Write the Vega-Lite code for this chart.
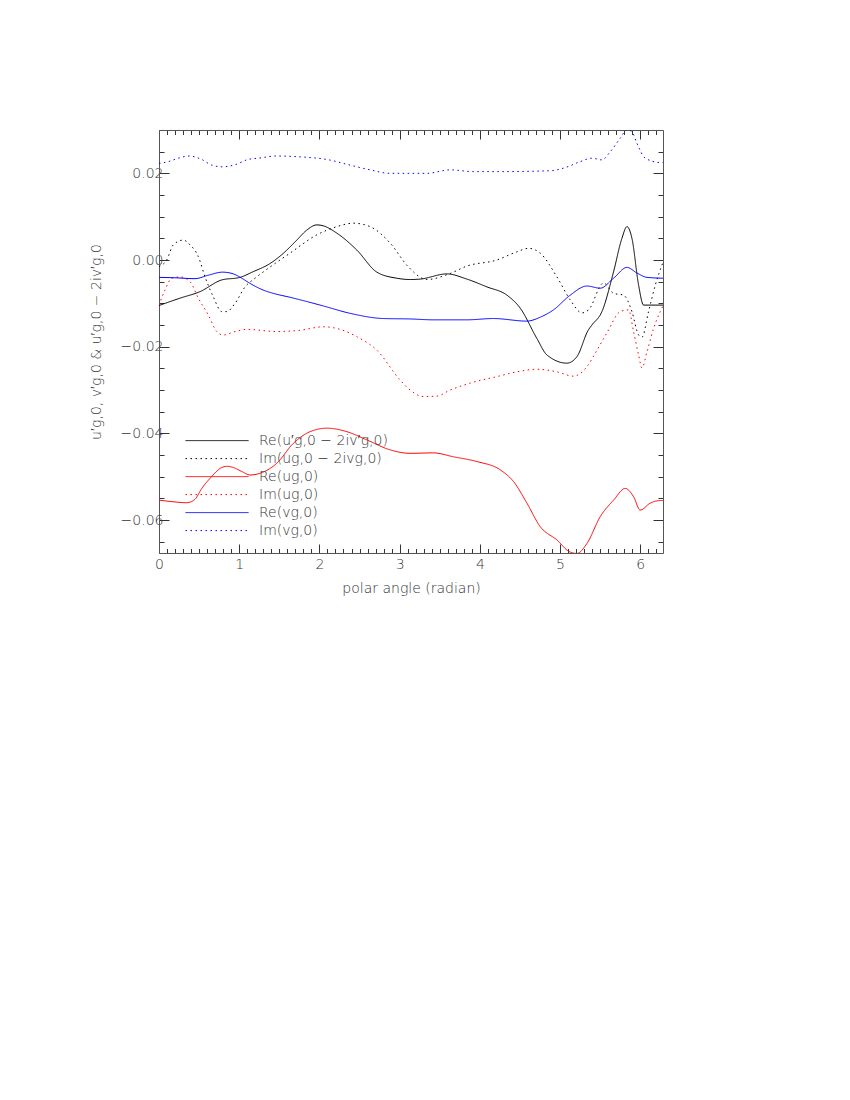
{
  "$schema": "https://vega.github.io/schema/vega-lite/v6.json",
  "width": 504,
  "height": 423,
  "autosize": "none",
  "padding": {"left": 159, "top": 130, "right": 187, "bottom": 547},
  "background": "white",
  "config": {"view": {"stroke": null}, "font": "DejaVu Sans"},
  "datasets": {
    "curves": [
      {"s":"a","x":0,"y":-0.0105},{"s":"a","x":0.262,"y":-0.0088},{"s":"a","x":0.511,"y":-0.0073},{"s":"a","x":0.782,"y":-0.0046},{"s":"a","x":1.01,"y":-0.004},{"s":"a","x":1.173,"y":-0.0027},{"s":"a","x":1.385,"y":-0.0008},{"s":"a","x":1.547,"y":0.0015},{"s":"a","x":1.718,"y":0.0046},{"s":"a","x":1.842,"y":0.0069},{"s":"a","x":1.967,"y":0.0081},{"s":"a","x":2.046,"y":0.0079},{"s":"a","x":2.217,"y":0.0062},{"s":"a","x":2.466,"y":0.0023},{"s":"a","x":2.716,"y":-0.0028},{"s":"a","x":2.965,"y":-0.0042},{"s":"a","x":3.131,"y":-0.0045},{"s":"a","x":3.256,"y":-0.0044},{"s":"a","x":3.589,"y":-0.0032},{"s":"a","x":3.838,"y":-0.0044},{"s":"a","x":4.088,"y":-0.0062},{"s":"a","x":4.337,"y":-0.0081},{"s":"a","x":4.503,"y":-0.0111},{"s":"a","x":4.711,"y":-0.0181},{"s":"a","x":4.836,"y":-0.0219},{"s":"a","x":5.085,"y":-0.0238},{"s":"a","x":5.21,"y":-0.0223},{"s":"a","x":5.351,"y":-0.0162},{"s":"a","x":5.397,"y":-0.015},{"s":"a","x":5.522,"y":-0.0119},{"s":"a","x":5.667,"y":-0.0027},{"s":"a","x":5.771,"y":0.005},{"s":"a","x":5.834,"y":0.0077},{"s":"a","x":5.896,"y":0.005},{"s":"a","x":5.979,"y":-0.0058},{"s":"a","x":6.041,"y":-0.0104},{"s":"a","x":6.146,"y":-0.0104},{"s":"a","x":6.283,"y":-0.0104},
      {"s":"b","x":0,"y":-0.0015},{"s":"b","x":0.096,"y":0.0},{"s":"b","x":0.178,"y":0.0035},{"s":"b","x":0.303,"y":0.0046},{"s":"b","x":0.387,"y":0.0035},{"s":"b","x":0.49,"y":0.0008},{"s":"b","x":0.574,"y":-0.0039},{"s":"b","x":0.677,"y":-0.0085},{"s":"b","x":0.782,"y":-0.0119},{"s":"b","x":0.844,"y":-0.0119},{"s":"b","x":0.948,"y":-0.01},{"s":"b","x":1.073,"y":-0.0062},{"s":"b","x":1.197,"y":-0.0042},{"s":"b","x":1.363,"y":-0.0019},{"s":"b","x":1.634,"y":0.0016},{"s":"b","x":1.967,"y":0.0058},{"s":"b","x":2.217,"y":0.0077},{"s":"b","x":2.424,"y":0.0085},{"s":"b","x":2.632,"y":0.0077},{"s":"b","x":2.882,"y":0.0039},{"s":"b","x":3.11,"y":-0.0016},{"s":"b","x":3.339,"y":-0.0045},{"s":"b","x":3.63,"y":-0.0031},{"s":"b","x":3.838,"y":-0.0014},{"s":"b","x":4.212,"y":0.0},{"s":"b","x":4.462,"y":0.0019},{"s":"b","x":4.607,"y":0.0027},{"s":"b","x":4.752,"y":0.0016},{"s":"b","x":4.961,"y":-0.0039},{"s":"b","x":5.127,"y":-0.0092},{"s":"b","x":5.273,"y":-0.0122},{"s":"b","x":5.355,"y":-0.0115},{"s":"b","x":5.542,"y":-0.0053},{"s":"b","x":5.667,"y":-0.0077},{"s":"b","x":5.791,"y":-0.0081},{"s":"b","x":5.896,"y":-0.0119},{"s":"b","x":5.979,"y":-0.0173},{"s":"b","x":6.021,"y":-0.0178},{"s":"b","x":6.103,"y":-0.0119},{"s":"b","x":6.187,"y":-0.0058},{"s":"b","x":6.283,"y":-0.0005},
      {"s":"c","x":0,"y":-0.0554},{"s":"c","x":0.137,"y":-0.0557},{"s":"c","x":0.346,"y":-0.056},{"s":"c","x":0.449,"y":-0.0552},{"s":"c","x":0.53,"y":-0.0528},{"s":"c","x":0.64,"y":-0.0503},{"s":"c","x":0.78,"y":-0.0479},{"s":"c","x":0.85,"y":-0.0476},{"s":"c","x":0.93,"y":-0.0479},{"s":"c","x":1.032,"y":-0.0488},{"s":"c","x":1.135,"y":-0.0496},{"s":"c","x":1.26,"y":-0.0492},{"s":"c","x":1.468,"y":-0.0469},{"s":"c","x":1.675,"y":-0.0423},{"s":"c","x":1.884,"y":-0.0396},{"s":"c","x":2.092,"y":-0.0388},{"s":"c","x":2.341,"y":-0.0396},{"s":"c","x":2.591,"y":-0.0415},{"s":"c","x":2.881,"y":-0.0438},{"s":"c","x":3.131,"y":-0.0446},{"s":"c","x":3.421,"y":-0.0445},{"s":"c","x":3.671,"y":-0.0454},{"s":"c","x":3.963,"y":-0.0465},{"s":"c","x":4.253,"y":-0.0484},{"s":"c","x":4.419,"y":-0.0511},{"s":"c","x":4.587,"y":-0.0561},{"s":"c","x":4.752,"y":-0.0615},{"s":"c","x":4.961,"y":-0.0646},{"s":"c","x":5.127,"y":-0.0674},{"s":"c","x":5.21,"y":-0.0677},{"s":"c","x":5.335,"y":-0.0654},{"s":"c","x":5.501,"y":-0.0592},{"s":"c","x":5.667,"y":-0.0554},{"s":"c","x":5.813,"y":-0.0527},{"s":"c","x":5.916,"y":-0.0546},{"s":"c","x":5.999,"y":-0.0577},{"s":"c","x":6.124,"y":-0.0561},{"s":"c","x":6.249,"y":-0.0555},{"s":"c","x":6.283,"y":-0.0555},
      {"s":"d","x":0,"y":-0.0104},{"s":"d","x":0.075,"y":-0.0069},{"s":"d","x":0.158,"y":-0.0042},{"s":"d","x":0.262,"y":-0.0039},{"s":"d","x":0.387,"y":-0.005},{"s":"d","x":0.49,"y":-0.0088},{"s":"d","x":0.615,"y":-0.0127},{"s":"d","x":0.72,"y":-0.0165},{"s":"d","x":0.802,"y":-0.0173},{"s":"d","x":0.948,"y":-0.0165},{"s":"d","x":1.094,"y":-0.016},{"s":"d","x":1.468,"y":-0.0165},{"s":"d","x":1.759,"y":-0.0162},{"s":"d","x":2.049,"y":-0.0154},{"s":"d","x":2.258,"y":-0.016},{"s":"d","x":2.466,"y":-0.0177},{"s":"d","x":2.716,"y":-0.0208},{"s":"d","x":3.006,"y":-0.0277},{"s":"d","x":3.131,"y":-0.03},{"s":"d","x":3.297,"y":-0.0315},{"s":"d","x":3.464,"y":-0.0314},{"s":"d","x":3.63,"y":-0.03},{"s":"d","x":3.879,"y":-0.0284},{"s":"d","x":4.212,"y":-0.0269},{"s":"d","x":4.462,"y":-0.0258},{"s":"d","x":4.711,"y":-0.0252},{"s":"d","x":4.961,"y":-0.0258},{"s":"d","x":5.168,"y":-0.0268},{"s":"d","x":5.335,"y":-0.0246},{"s":"d","x":5.46,"y":-0.0208},{"s":"d","x":5.584,"y":-0.0168},{"s":"d","x":5.75,"y":-0.0119},{"s":"d","x":5.854,"y":-0.0115},{"s":"d","x":5.916,"y":-0.0165},{"s":"d","x":5.979,"y":-0.0219},{"s":"d","x":6.021,"y":-0.0249},{"s":"d","x":6.083,"y":-0.0212},{"s":"d","x":6.166,"y":-0.0158},{"s":"d","x":6.249,"y":-0.0119},{"s":"d","x":6.283,"y":-0.0106},
      {"s":"e","x":0,"y":-0.004},{"s":"e","x":0.2,"y":-0.0041},{"s":"e","x":0.449,"y":-0.0043},{"s":"e","x":0.615,"y":-0.0035},{"s":"e","x":0.792,"y":-0.0028},{"s":"e","x":0.927,"y":-0.0032},{"s":"e","x":1.032,"y":-0.0042},{"s":"e","x":1.135,"y":-0.0054},{"s":"e","x":1.322,"y":-0.0071},{"s":"e","x":1.447,"y":-0.0078},{"s":"e","x":1.634,"y":-0.0086},{"s":"e","x":2.049,"y":-0.0106},{"s":"e","x":2.382,"y":-0.0123},{"s":"e","x":2.798,"y":-0.0135},{"s":"e","x":3.131,"y":-0.0136},{"s":"e","x":3.421,"y":-0.0138},{"s":"e","x":3.838,"y":-0.0138},{"s":"e","x":4.17,"y":-0.0135},{"s":"e","x":4.587,"y":-0.0141},{"s":"e","x":4.752,"y":-0.0132},{"s":"e","x":4.918,"y":-0.0115},{"s":"e","x":5.127,"y":-0.0081},{"s":"e","x":5.335,"y":-0.006},{"s":"e","x":5.501,"y":-0.0065},{"s":"e","x":5.667,"y":-0.0042},{"s":"e","x":5.834,"y":-0.0017},{"s":"e","x":5.959,"y":-0.003},{"s":"e","x":6.083,"y":-0.004},{"s":"e","x":6.283,"y":-0.0042},
      {"s":"f","x":0,"y":0.0223},{"s":"f","x":0.116,"y":0.0227},{"s":"f","x":0.241,"y":0.0235},{"s":"f","x":0.374,"y":0.024},{"s":"f","x":0.533,"y":0.0232},{"s":"f","x":0.657,"y":0.0219},{"s":"f","x":0.792,"y":0.0215},{"s":"f","x":0.948,"y":0.022},{"s":"f","x":1.11,"y":0.0232},{"s":"f","x":1.239,"y":0.0235},{"s":"f","x":1.468,"y":0.024},{"s":"f","x":1.759,"y":0.0238},{"s":"f","x":2.092,"y":0.0232},{"s":"f","x":2.382,"y":0.0219},{"s":"f","x":2.632,"y":0.0208},{"s":"f","x":2.882,"y":0.02},{"s":"f","x":3.131,"y":0.02},{"s":"f","x":3.339,"y":0.02},{"s":"f","x":3.63,"y":0.0208},{"s":"f","x":3.921,"y":0.0204},{"s":"f","x":4.253,"y":0.0204},{"s":"f","x":4.877,"y":0.0206},{"s":"f","x":5.043,"y":0.0212},{"s":"f","x":5.251,"y":0.0227},{"s":"f","x":5.397,"y":0.0235},{"s":"f","x":5.522,"y":0.0231},{"s":"f","x":5.626,"y":0.025},{"s":"f","x":5.75,"y":0.0281},{"s":"f","x":5.834,"y":0.0301},{"s":"f","x":5.896,"y":0.0296},{"s":"f","x":5.959,"y":0.0269},{"s":"f","x":6.062,"y":0.0235},{"s":"f","x":6.249,"y":0.0225},{"s":"f","x":6.283,"y":0.0225}
    ]
  },
  "data": {"name": "curves"},
  "layer": [
    {
      "mark": {"type": "line", "strokeWidth": 1, "interpolate": "monotone", "clip": true},
      "encoding": {
        "x": {
          "field": "x", "type": "quantitative",
          "scale": {"domain": [0, 6.2832], "nice": false, "zero": false},
          "axis": {
            "orient": "bottom",
            "values": [0,0.1,0.2,0.3,0.4,0.5,0.6,0.7,0.8,0.9,1,1.1,1.2,1.3,1.4,1.5,1.6,1.7,1.8,1.9,2,2.1,2.2,2.3,2.4,2.5,2.6,2.7,2.8,2.9,3,3.1,3.2,3.3,3.4,3.5,3.6,3.7,3.8,3.9,4,4.1,4.2,4.3,4.4,4.5,4.6,4.7,4.8,4.9,5,5.1,5.2,5.3,5.4,5.5,5.6,5.7,5.8,5.9,6,6.1,6.2],
            "labelExpr": "abs(datum.value-round(datum.value))<1e-6 ? format(datum.value,'d') : ''",
            "tickSize": {"condition": {"test": "abs(datum.value-round(datum.value))<1e-6", "value": -9}, "value": -4.5},
            "title": "polar angle (radian)",
            "grid": false,
            "labelOverlap": false,
            "labelFlush": false,
            "labelPadding": 13,
            "labelFontSize": 14,
            "labelColor": "#333",
            "labelFontWeight": 200,
            "titleFontSize": 14,
            "titleFontWeight": 200,
            "titleColor": "#333",
            "titlePadding": 6,
            "domainColor": "#555",
            "tickColor": "#333"
          }
        },
        "y": {
          "field": "y", "type": "quantitative",
          "scale": {"domain": [-0.0676, 0.03], "nice": false, "zero": false},
          "axis": {
            "orient": "left",
            "values": [-0.065,-0.06,-0.055,-0.05,-0.045,-0.04,-0.035,-0.03,-0.025,-0.02,-0.015,-0.01,-0.005,0,0.005,0.01,0.015,0.02,0.025],
            "labelExpr": "abs(datum.value*50-round(datum.value*50))<1e-6 ? format(datum.value,'.2f') : ''",
            "tickSize": {"condition": {"test": "abs(datum.value*50-round(datum.value*50))<1e-6", "value": -10}, "value": -5},
            "title": "u′g,0, v′g,0 & u′g,0 − 2iv′g,0",
            "grid": false,
            "labelOverlap": false,
            "labelFlush": false,
            "labelPadding": 6,
            "labelFontSize": 14,
            "labelColor": "#333",
            "labelFontWeight": 200,
            "titleFontSize": 14,
            "titleFontWeight": 200,
            "titleColor": "#333",
            "titlePadding": 17,
            "domainColor": "#555",
            "tickColor": "#333"
          }
        },
        "color": {
          "field": "s", "type": "nominal",
          "scale": {"domain": ["a","b","c","d","e","f"], "range": ["#000000","#000000","#ff0000","#ff0000","#0000ff","#0000ff"]},
          "legend": {
            "orient": "none", "legendX": 26, "legendY": 302, "title": null,
            "symbolType": "stroke", "symbolSize": 3969, "symbolStrokeWidth": 1,
            "clipHeight": 17.2, "rowPadding": 0, "labelOffset": 10, "padding": 0,
            "labelFontSize": 14, "labelColor": "#333", "labelFontWeight": 200, "labelLimit": 0,
            "labelExpr": "datum.label=='a' ? 'Re(u′g,0 − 2iv′g,0)' : datum.label=='b' ? 'Im(ug,0 − 2ivg,0)' : datum.label=='c' ? 'Re(ug,0)' : datum.label=='d' ? 'Im(ug,0)' : datum.label=='e' ? 'Re(vg,0)' : 'Im(vg,0)'"
          }
        },
        "strokeDash": {
          "field": "s", "type": "nominal",
          "scale": {"domain": ["a","b","c","d","e","f"], "range": [[1,0],[1.5,3.5],[1,0],[1.5,3.5],[1,0],[1.5,3.5]]},
          "legend": {
            "orient": "none", "legendX": 26, "legendY": 302, "title": null,
            "symbolType": "stroke", "symbolSize": 3969, "symbolStrokeWidth": 1,
            "clipHeight": 17.2, "rowPadding": 0, "labelOffset": 10, "padding": 0,
            "labelFontSize": 14, "labelColor": "#333", "labelFontWeight": 200, "labelLimit": 0,
            "labelExpr": "datum.label=='a' ? 'Re(u′g,0 − 2iv′g,0)' : datum.label=='b' ? 'Im(ug,0 − 2ivg,0)' : datum.label=='c' ? 'Re(ug,0)' : datum.label=='d' ? 'Im(ug,0)' : datum.label=='e' ? 'Re(vg,0)' : 'Im(vg,0)'"
          }
        }
      }
    },
    {
      "mark": {"type": "line", "opacity": 0},
      "encoding": {
        "x": {
          "field": "x", "type": "quantitative",
          "axis": {
            "orient": "top",
            "values": [0,0.1,0.2,0.3,0.4,0.5,0.6,0.7,0.8,0.9,1,1.1,1.2,1.3,1.4,1.5,1.6,1.7,1.8,1.9,2,2.1,2.2,2.3,2.4,2.5,2.6,2.7,2.8,2.9,3,3.1,3.2,3.3,3.4,3.5,3.6,3.7,3.8,3.9,4,4.1,4.2,4.3,4.4,4.5,4.6,4.7,4.8,4.9,5,5.1,5.2,5.3,5.4,5.5,5.6,5.7,5.8,5.9,6,6.1,6.2],
            "labels": false, "title": null, "grid": false,
            "tickSize": {"condition": {"test": "abs(datum.value-round(datum.value))<1e-6", "value": -9}, "value": -4.5},
            "domainColor": "#555", "tickColor": "#333"
          }
        },
        "y": {
          "field": "y", "type": "quantitative",
          "axis": {
            "orient": "right",
            "values": [-0.065,-0.06,-0.055,-0.05,-0.045,-0.04,-0.035,-0.03,-0.025,-0.02,-0.015,-0.01,-0.005,0,0.005,0.01,0.015,0.02,0.025],
            "labels": false, "title": null, "grid": false,
            "tickSize": {"condition": {"test": "abs(datum.value*50-round(datum.value*50))<1e-6", "value": -10}, "value": -5},
            "domainColor": "#555", "tickColor": "#333"
          }
        },
        "detail": {"field": "s", "type": "nominal"}
      }
    }
  ],
  "resolve": {"axis": {"x": "independent", "y": "independent"}}
}
